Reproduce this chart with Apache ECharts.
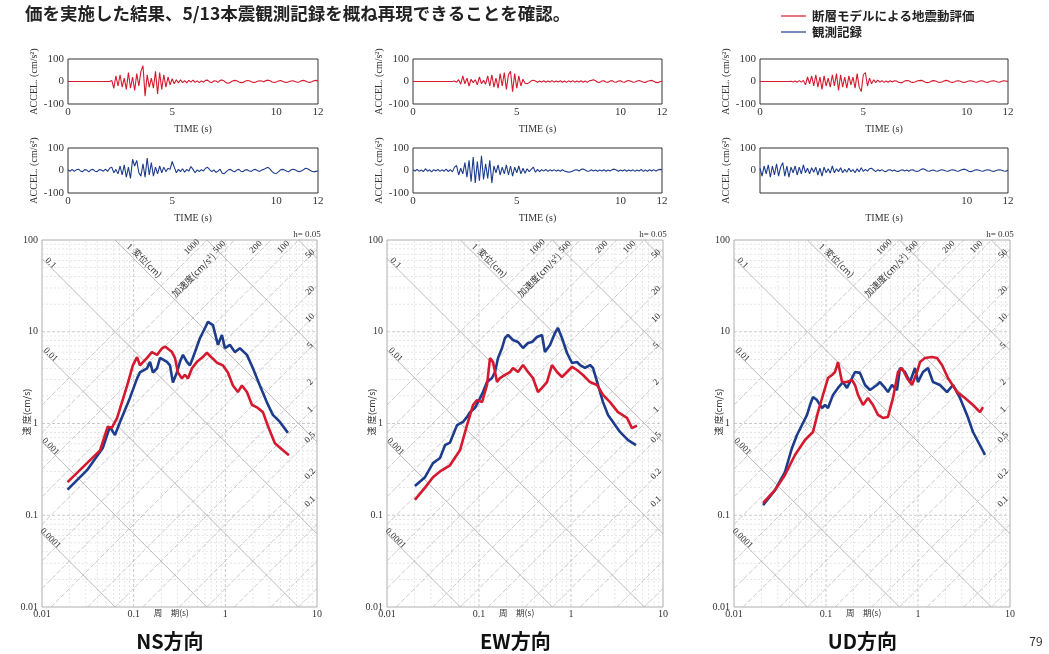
<!DOCTYPE html>
<html><head><meta charset="utf-8">
<script src="https://cdn.jsdelivr.net/npm/echarts@6/dist/echarts.min.js"></script>
<style>html,body{margin:0;padding:0;background:#fff}#c{width:1049px;height:654px}</style>
</head><body><div id="c"></div>
<script>
// ---------- tick / label values ----------
const timeStep = 0.1;
const timeTicks = [0, 5, 10, 12];
const accelTicks = [-100, 0, 100];
const periodTicks = [0.01, 0.1, 1, 10];
const velocityTicks = [0.01, 0.1, 1, 10, 100];
const dispLineVals = [0.0001, 0.001, 0.01, 0.1, 1, 10, 100];
const dispLabelVals = [0.1, 0.01, 0.001, 0.0001];
const accLineVals = [0.01, 0.02, 0.05, 0.1, 0.2, 0.5, 1, 2, 5, 10, 20, 50, 100, 200, 500, 1000];
const accTopLabelVals = [1000, 500, 200, 100];
const accRightLabelVals = [50, 20, 10, 5, 2, 1, 0.5, 0.2, 0.1];

// ---------- acceleration time histories (cm/s2), one value every 0.1 s ----------
const nsSynthAcc = [
 0,0,0,0,0,0,0,0,0,0,
 0,0,0,0,0,0,0,0,0,0,
 0,5,-30,25,-20,30,-25,15,-35,40,
 -30,20,-40,35,-20,45,70,-65,30,-25,
 15,-30,45,-55,40,-35,30,-25,20,-15,
 12,-10,8,-6,8,-5,4,-6,5,-3,
 6,-4,3,-5,2,-3,5,6,-2,-5,
 3,2,-4,5,7,2,-6,-8,-3,2,
 5,3,-2,-5,-4,1,4,3,-1,-4,
 -3,1,3,2,-1,4,6,3,-2,-4,
 -2,2,4,1,-3,-4,-1,2,3,0,
 -3,-2,3,5,2,-2,-4,-1,3,5,
 2];
const nsObsAcc = [
 2,-3,5,-4,3,6,-2,-5,4,2,
 -6,3,5,-3,-5,4,2,-3,6,-4,
 10,15,-10,5,-15,20,-20,25,-30,15,
 -35,50,20,45,-10,-25,30,-30,55,-20,
 35,-25,15,-15,20,-10,15,-5,10,5,
 40,15,-10,5,-5,8,-8,5,-3,18,
 5,-10,3,-5,4,-2,10,14,4,-5,
 3,-8,-3,6,-12,-14,-5,3,5,-2,
 -6,2,5,-3,-5,2,4,-2,-4,3,
 5,-1,-4,2,5,10,14,6,-5,-12,
 -13,-6,3,5,2,-3,-5,2,6,3,
 -2,-5,-2,3,10,8,2,-3,-6,-4,
 -2];
const ewSynthAcc = [
 0,0,0,0,0,0,0,0,0,0,
 0,0,0,0,0,0,0,0,0,0,
 2,-3,8,-12,25,-10,15,-20,10,-5,
 8,-15,20,-10,5,-12,25,-20,30,-25,
 15,-30,35,-20,40,-35,30,45,-45,35,
 -30,25,-20,10,-8,-10,-5,3,6,2,
 -3,2,-2,3,-3,2,-2,4,-3,2,
 -2,3,-3,2,-4,3,-2,4,-3,2,
 -2,3,-3,2,-4,3,5,8,3,-3,
 -4,2,3,-2,-4,2,4,-2,-3,2,
 3,-2,-3,2,4,1,-3,-2,2,4,
 1,-3,-4,1,3,5,1,-4,-5,-1,
 2];
const ewObsAcc = [
 3,-2,5,-4,2,-5,8,-3,3,-6,
 4,-2,5,-4,3,-3,6,-5,4,-6,
 15,22,-20,10,-15,35,-30,45,-50,60,
 -55,40,-45,65,-40,30,-35,45,-55,20,
 -10,25,-20,15,-15,25,-20,20,-25,15,
 -10,20,-15,10,-12,8,-5,5,15,-8,
 5,-5,4,-3,5,-4,3,-2,4,-3,
 2,-3,3,-2,-5,-8,-6,-2,2,3,
 -2,5,7,2,-3,-2,3,-2,2,-3,
 2,-2,3,-3,2,-2,4,6,2,-3,
 2,-2,3,-3,2,-2,3,-4,2,-2,
 5,-4,2,-3,3,-2,4,-3,2,5,
 3];
const udSynthAcc = [
 0,0,0,0,0,0,0,0,0,0,
 0,0,0,0,0,1,-2,2,-3,4,
 -3,5,-15,20,-10,25,-20,30,-25,20,
 -35,25,-20,15,-25,30,-20,35,-40,30,
 -25,20,-30,25,-15,20,-30,35,-25,-45,
 30,40,-20,15,-10,8,-5,6,-3,4,
 -4,2,-3,3,-2,3,2,-3,-6,-4,
 2,4,3,-2,-4,-2,2,4,5,2,
 -3,-5,-3,2,4,2,-2,-4,-2,2,
 5,3,-2,-4,-2,2,3,1,-3,-4,
 -1,2,3,1,-2,-3,1,3,2,-2,
 -4,-1,2,3,1,-2,-3,1,3,2,
 -1];
const udObsAcc = [
 10,-25,20,-15,25,-30,20,-20,30,-25,
 15,35,-25,20,-30,15,-10,20,-20,15,
 -15,25,-10,10,-15,12,-8,15,-20,10,
 -25,15,-10,8,-12,20,-10,8,-5,12,
 -10,5,-8,10,-5,4,-10,8,-6,12,
 -4,5,-3,8,10,2,-5,3,-2,4,
 -3,-5,2,3,-2,2,-3,-4,1,3,
 -2,2,-3,2,3,-2,-4,-1,5,8,
 3,-2,-3,1,2,-2,-3,1,3,1,
 -2,-3,1,3,2,-2,-3,1,4,6,
 2,-3,-5,-2,2,3,1,-2,-3,1,
 3,2,-2,-4,-1,2,3,1,-2,-3,
 2];

// ---------- pseudo velocity response spectra [period s, velocity cm/s] ----------
const nsSynthSpec = [[0.019,0.23],[0.031,0.37],[0.043,0.51],[0.052,0.92],[0.058,0.9],[0.066,1.15],[0.085,2.6],[0.098,4.3],[0.109,5.3],[0.117,4.3],[0.14,5.2],[0.158,6.0],[0.18,5.6],[0.204,6.6],[0.22,6.9],[0.231,6.6],[0.262,6.0],[0.282,5.2],[0.304,3.6],[0.336,3.1],[0.362,3.4],[0.391,3.1],[0.433,4.0],[0.49,4.7],[0.556,5.2],[0.63,5.9],[0.714,5.2],[0.81,4.6],[0.942,4.3],[1.067,3.6],[1.21,2.6],[1.37,2.2],[1.517,2.6],[1.72,2.2],[1.95,1.6],[2.21,1.5],[2.57,1.33],[2.9,0.95],[3.47,0.61],[4.25,0.51],[4.94,0.45]];
const nsObsSpec = [[0.019,0.19],[0.031,0.31],[0.046,0.54],[0.055,0.92],[0.0625,0.75],[0.071,1.04],[0.091,1.9],[0.109,3.1],[0.117,3.6],[0.14,4.0],[0.151,4.7],[0.162,3.6],[0.18,4.0],[0.194,5.2],[0.231,4.7],[0.249,4.3],[0.268,2.8],[0.296,3.6],[0.32,4.7],[0.345,5.6],[0.381,4.7],[0.411,4.3],[0.443,5.2],[0.528,8.5],[0.6,11.0],[0.646,12.8],[0.733,11.8],[0.83,7.2],[0.918,9.2],[0.99,6.6],[1.12,7.2],[1.27,6.0],[1.44,6.6],[1.72,5.6],[2.0,4.0],[2.38,2.6],[2.84,1.7],[3.3,1.24],[3.94,1.04],[4.82,0.79]];
const ewSynthSpec = [[0.0201,0.147],[0.0259,0.2],[0.0316,0.26],[0.0377,0.3],[0.0484,0.35],[0.0621,0.51],[0.0741,0.96],[0.0861,1.59],[0.0951,1.8],[0.1078,1.71],[0.1222,2.63],[0.1317,5.17],[0.142,4.68],[0.157,2.83],[0.169,3.13],[0.1917,3.38],[0.2173,3.64],[0.234,4.03],[0.2655,3.64],[0.3008,4.34],[0.341,3.64],[0.386,3.13],[0.4375,2.2],[0.484,2.44],[0.548,2.83],[0.621,4.34],[0.705,3.64],[0.798,3.21],[0.905,3.64],[1.025,4.13],[1.162,3.83],[1.35,3.38],[1.609,2.83],[1.917,2.63],[2.228,2.05],[2.655,1.71],[3.24,1.33],[4.06,1.15],[4.6,0.89],[5.21,0.95]];
const ewObsSpec = [[0.0201,0.208],[0.0259,0.26],[0.0316,0.37],[0.0377,0.42],[0.0427,0.58],[0.0484,0.62],[0.0522,0.75],[0.0577,0.96],[0.067,1.04],[0.0741,1.18],[0.0798,1.33],[0.0905,1.48],[0.0975,1.71],[0.1105,2.2],[0.1222,2.83],[0.1384,3.13],[0.1493,3.64],[0.161,5.17],[0.178,6.65],[0.1917,8.55],[0.2066,9.22],[0.234,8.13],[0.2655,7.73],[0.3008,6.65],[0.341,7.54],[0.377,7.73],[0.427,8.77],[0.484,9.22],[0.521,6.02],[0.591,7.17],[0.67,9.69],[0.722,11.0],[0.798,8.55],[0.905,5.87],[1.025,4.56],[1.162,4.68],[1.253,4.34],[1.42,4.03],[1.609,4.34],[1.734,4.03],[1.965,2.63],[2.228,1.71],[2.525,1.24],[2.86,1.04],[3.41,0.81],[4.17,0.66],[5.09,0.58]];
const udSynthSpec = [[0.0207,0.136],[0.0279,0.188],[0.0358,0.275],[0.046,0.454],[0.0591,0.661],[0.0722,0.808],[0.0818,1.33],[0.0928,2.05],[0.1051,3.13],[0.1162,3.38],[0.1253,3.64],[0.135,4.68],[0.1493,2.83],[0.169,2.83],[0.1917,2.98],[0.2066,2.63],[0.2228,2.05],[0.2525,1.59],[0.286,1.9],[0.324,1.59],[0.367,1.24],[0.4166,1.15],[0.472,1.18],[0.535,1.9],[0.606,3.64],[0.67,4.03],[0.759,3.13],[0.861,2.63],[0.975,3.64],[1.051,4.68],[1.19,5.17],[1.42,5.3],[1.609,5.17],[1.823,4.34],[2.118,3.13],[2.655,2.2],[3.24,1.9],[3.96,1.59],[4.72,1.33],[5.09,1.51]];
const udObsSpec = [[0.0207,0.129],[0.0279,0.188],[0.0358,0.296],[0.0427,0.541],[0.0484,0.75],[0.0548,0.964],[0.0622,1.24],[0.067,1.59],[0.0722,1.945],[0.0798,1.8],[0.0905,1.475],[0.0975,1.59],[0.1051,1.475],[0.1191,2.05],[0.135,2.44],[0.153,2.83],[0.169,2.44],[0.1917,3.13],[0.2066,3.64],[0.234,3.56],[0.2655,2.63],[0.3008,2.32],[0.358,2.63],[0.386,2.83],[0.4375,2.44],[0.472,2.2],[0.521,2.63],[0.591,2.32],[0.637,4.03],[0.722,3.64],[0.818,2.83],[0.927,4.03],[1.0,2.83],[1.133,3.64],[1.284,4.03],[1.455,2.83],[1.734,2.63],[2.066,2.2],[2.4,2.63],[2.86,1.9],[3.41,1.24],[3.96,0.808],[5.35,0.454]];

// ---------- layout ----------
const RED = '#d5192e', BLUE = '#1d3c8c';
const SERIF = '"Liberation Serif", "DejaVu Serif", serif';
const JP = '"Noto Sans CJK JP", sans-serif';
const TH1 = 59, TH2 = 148, THH = 45, SPT = 240, SPH = 367;
const panels = [
  {title:'NS方向', thL:68, thW:250, spL:42, spW:275, synth:nsSynthAcc, obs:nsObsAcc, sSpec:nsSynthSpec, oSpec:nsObsSpec, hideX:[], hideY:[]},
  {title:'EW方向', thL:413, thW:249, spL:387, spW:276, synth:ewSynthAcc, obs:ewObsAcc, sSpec:ewSynthSpec, oSpec:ewObsSpec, hideX:[], hideY:[]},
  {title:'UD方向', thL:760, thW:248, spL:734, spW:276, synth:udSynthAcc, obs:udObsAcc, sSpec:udSynthSpec, oSpec:udObsSpec, hideX:[0,5], hideY:[-100]}
];

const TWO_PI = 2 * Math.PI;
function specGridData() {
  const d = [];
  for (let k = -2; k <= 0; k++) for (let m = 1; m <= 9; m++) {
    if (k === -2 && m === 1) continue;
    const t = +(m * Math.pow(10, k)).toPrecision(3);
    d.push([t, 0.01, t, 100, m === 1 ? 1 : 0]);
  }
  for (let k = -2; k <= 1; k++) for (let m = 1; m <= 9; m++) {
    if (k === -2 && m === 1) continue;
    const v = +(m * Math.pow(10, k)).toPrecision(3);
    d.push([0.01, v, 10, v, m === 1 ? 1 : 0]);
  }
  dispLineVals.forEach(D => {
    const lo = Math.max(0.01, TWO_PI * D / 100), hi = Math.min(10, TWO_PI * D / 0.01);
    if (lo < hi) d.push([lo, TWO_PI * D / lo, hi, TWO_PI * D / hi, 2]);
  });
  accLineVals.forEach(A => {
    const lo = Math.max(0.01, TWO_PI * 0.01 / A), hi = Math.min(10, TWO_PI * 100 / A);
    if (lo < hi) d.push([lo, A * lo / TWO_PI, hi, A * hi / TWO_PI, 3]);
  });
  return d;
}
const lineStyles = [
  {stroke:'#d6d6d6', lineWidth:0.6, lineDash:[2,2]},
  {stroke:'#bcbcbc', lineWidth:0.8, lineDash:[3,2]},
  {stroke:'#a9a9a9', lineWidth:0.8},
  {stroke:'#bdbdbd', lineWidth:0.8, lineDash:[5,2]}
];

const grids = [], xAxes = [], yAxes = [], series = [];
const fmtNum = v => String(+(+v).toPrecision(3));
panels.forEach((p, i) => {
  [TH1, TH2].forEach((top, j) => {
    const obs = j === 1;
    grids.push({left:p.thL, top:top, width:p.thW, height:THH, show:true, borderColor:'#333', borderWidth:1, backgroundColor:'transparent'});
    const hx = obs ? p.hideX : [], hy = obs ? p.hideY : [];
    xAxes.push({gridIndex:grids.length-1, type:'value', min:0, max:12, interval:1,
      axisLine:{show:false}, axisTick:{show:false}, splitLine:{show:false},
      axisLabel:{formatter:v => (timeTicks.includes(v) && !hx.includes(v)) ? String(v) : '', fontFamily:SERIF, fontSize:11, color:'#333', margin:3},
      name:'TIME (s)', nameLocation:'middle', nameGap:20, nameTextStyle:{fontFamily:SERIF, fontSize:10, color:'#333'}});
    yAxes.push({gridIndex:grids.length-1, type:'value', min:-100, max:100, interval:100,
      axisLine:{show:false}, axisTick:{show:false}, splitLine:{show:false},
      axisLabel:{formatter:v => (accelTicks.includes(v) && !hy.includes(v)) ? String(v) : '', fontFamily:SERIF, fontSize:11, color:'#333', margin:4},
      name:'ACCEL. (cm/s²)', nameLocation:'middle', nameRotate:90, nameGap:29, nameTextStyle:{fontFamily:SERIF, fontSize:10, color:'#333'}});
    const arr = obs ? p.obs : p.synth;
    series.push({type:'line', xAxisIndex:grids.length-1, yAxisIndex:grids.length-1, showSymbol:false, animation:false,
      data:arr.map((v, k) => [+(k * timeStep).toFixed(1), v]), lineStyle:{color: obs ? BLUE : RED, width:1.1}, z:3});
  });
  grids.push({left:p.spL, top:SPT, width:p.spW, height:SPH, show:true, borderColor:'#999', borderWidth:0.8, backgroundColor:'transparent'});
  const gi = grids.length - 1;
  xAxes.push({gridIndex:gi, type:'log', logBase:10, min:0.01, max:10,
    axisLine:{show:false}, axisTick:{show:false}, splitLine:{show:false},
    axisLabel:{formatter:v => periodTicks.some(t => Math.abs(t - v) / t < 1e-6) ? fmtNum(v) : '', fontFamily:SERIF, fontSize:10, color:'#333', margin:2}});
  yAxes.push({gridIndex:gi, type:'log', logBase:10, min:0.01, max:100,
    axisLine:{show:false}, axisTick:{show:false}, splitLine:{show:false},
    axisLabel:{formatter:v => velocityTicks.some(t => Math.abs(t - v) / t < 1e-6) ? fmtNum(v) : '', fontFamily:SERIF, fontSize:10, color:'#333', margin:4}});
  series.push({type:'custom', xAxisIndex:gi, yAxisIndex:gi, silent:true, animation:false, z:1, clip:true,
    encode:{x:[0,2], y:[1,3]}, data:specGridData(),
    renderItem:(params, api) => {
      const a = api.coord([api.value(0), api.value(1)]);
      const b = api.coord([api.value(2), api.value(3)]);
      return {type:'line', shape:{x1:a[0], y1:a[1], x2:b[0], y2:b[1]}, style:Object.assign({fill:null}, lineStyles[api.value(4)])};
    }});
  series.push({type:'line', xAxisIndex:gi, yAxisIndex:gi, showSymbol:false, animation:false, data:p.oSpec, lineStyle:{color:BLUE, width:2.6}, z:4});
  series.push({type:'line', xAxisIndex:gi, yAxisIndex:gi, showSymbol:false, animation:false, data:p.sSpec, lineStyle:{color:RED, width:2.6}, z:5});
});

const chart = echarts.init(document.getElementById('c'), null, {renderer:'canvas'});
chart.setOption({animation:false, backgroundColor:'#fff', grid:grids, xAxis:xAxes, yAxis:yAxes, series:series});

// ---------- texts placed through the spectrum axes ----------
const g = [];
const txt = (x, y, text, font, opts) => g.push(Object.assign({type:'text', x:x, y:y, silent:true, z:100,
  style:{text:text, font:font, fill:'#333', align:'center', verticalAlign:'middle'}}, opts || {}));
const Q = Math.PI / 4;
const diagFont = '9px ' + SERIF;
panels.forEach((p, i) => {
  const gi = i * 3 + 2;
  const px = (T, V) => chart.convertToPixel({gridIndex:gi}, [T, V]);
  const decY = SPH / 4;
  dispLabelVals.forEach(D => {
    const T = 0.01 * Math.pow(10, 0.06);
    const c = px(T, TWO_PI * D / T);
    txt(c[0] + 3, c[1] - 1, fmtNum(D), diagFont, {rotation:-Q});
  });
  {
    const V1 = 100 * Math.pow(10, -9 / decY), c1 = px(TWO_PI / V1, V1);
    txt(c1[0] + 5, c1[1] - 2, '1', diagFont, {rotation:-Q});
    const V2 = 100 * Math.pow(10, -26 / decY), c2 = px(TWO_PI / V2, V2);
    txt(c2[0] + 6, c2[1] - 3, '変位(cm)', '9px ' + JP, {rotation:-Q});
  }
  accTopLabelVals.forEach(A => {
    const V = 100 * Math.pow(10, -7 / decY), c = px(TWO_PI * V / A, V);
    txt(c[0] - 8, c[1], fmtNum(A), diagFont, {rotation:Q});
  });
  {
    const V = 100 * Math.pow(10, -37 / decY), c = px(TWO_PI * V / 500, V);
    txt(c[0] - 4, c[1] - 2, '加速度(cm/s²)', '9px ' + JP, {rotation:Q});
  }
  accRightLabelVals.forEach(A => {
    const T = 10 * Math.pow(10, -0.075), c = px(T, A * T / TWO_PI);
    txt(c[0], c[1] - 2, fmtNum(A), diagFont, {rotation:Q});
  });
  txt(p.spL + p.spW - 10, SPT - 5, 'h= 0.05', diagFont);
  txt(p.spL + p.spW * 0.47, 613, '周　期(s)', '8.5px ' + JP);
  txt(p.spL - 15, 412, '速 度(cm/s)', '9px ' + JP, {rotation:Q * 2});
  txt(p.spL + p.spW * 0.465, 641, p.title, 'bold 20px ' + JP, {style:{text:p.title, font:'bold 20px ' + JP, fill:'#111', align:'center', verticalAlign:'middle'}});
});
// title, legend, page number
g.push({type:'text', x:25, y:13, silent:true, style:{text:'価を実施した結果、5/13本震観測記録を概ね再現できることを確認。', font:'bold 17.5px ' + JP, fill:'#222', align:'left', verticalAlign:'middle'}});
g.push({type:'line', shape:{x1:781, y1:16, x2:806, y2:16}, style:{stroke:RED, lineWidth:1.2}, silent:true});
g.push({type:'line', shape:{x1:781, y1:32, x2:806, y2:32}, style:{stroke:BLUE, lineWidth:1.2}, silent:true});
g.push({type:'text', x:812, y:16, silent:true, style:{text:'断層モデルによる地震動評価', font:'bold 12.5px ' + JP, fill:'#222', align:'left', verticalAlign:'middle'}});
g.push({type:'text', x:812, y:32, silent:true, style:{text:'観測記録', font:'bold 12.5px ' + JP, fill:'#222', align:'left', verticalAlign:'middle'}});
g.push({type:'text', x:1036, y:641, silent:true, style:{text:'79', font:'12px ' + JP, fill:'#333', align:'center', verticalAlign:'middle'}});
chart.setOption({graphic:{elements:g}});
</script></body></html>
